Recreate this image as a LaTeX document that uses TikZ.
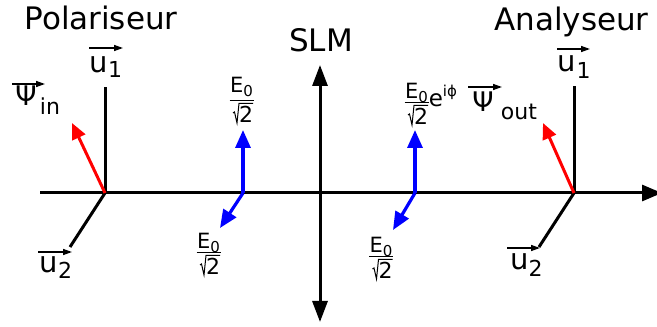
\documentclass[tikz,border=0pt]{standalone}
\usepackage{fontspec}
\setmainfont{DejaVu Sans}
\usetikzlibrary{arrows.meta}
\newcommand\efrac[4]{% cx, cy, name, numerator raise
  \node[fnum] (#3n) at (#1,#2+#4) {E\raisebox{-4pt}{\fontsize{15}{15}\selectfont 0}};
  \draw[fbar] (#1-12,#2) -- (#1+12,#2);
  \node[fden] (#3d) at (#1+4.5,#2-22) {2};
  \draw[fbar,line join=miter] (#1-8.5,#2-12) -- (#1-7,#2-11) -- (#1-4.5,#2-22) -- (#1-2.5,#2-2.5) -- (#1+11.5,#2-2.5);
}
\begin{document}
\begin{tikzpicture}[x=1pt,y=1pt,
  axis/.style={line width=3pt,black},
  head/.style={-{Triangle[length=20pt,width=16pt]}},
  title/.style={font=\fontsize{31}{31}\selectfont, inner sep=0pt, anchor=base},
  big/.style={font=\fontsize{29}{29}\selectfont, inner sep=0pt, anchor=base},
  psi/.style={font=\fontsize{27}{27}\selectfont, inner sep=0pt, anchor=base},
  sub/.style={font=\fontsize{22}{22}\selectfont, inner sep=0pt, anchor=base},
  over/.style={line width=1.4pt,-{Triangle[length=9pt,width=6pt]}},
  fnum/.style={font=\fontsize{21}{21}\selectfont, inner sep=0pt, anchor=base},
  fden/.style={font=\fontsize{22}{22}\selectfont, inner sep=0pt, anchor=base},
  fbar/.style={line width=1pt},
  redvec/.style={line width=3pt,red,-{Triangle[length=16pt,width=14pt]}},
  bluevec/.style={line width=3.2pt,blue,-{Triangle[length=18pt,width=15pt]}}
]
\useasboundingbox (0,0) rectangle (657,327);
% titles
\node[title] (pol) at (101,297) {Polariseur};
\node[title] (ana) at (571.5,296) {Analyseur};
\node[title] (slm) at (321,275) {SLM};
% key points
\coordinate (L) at (40,134);
\coordinate (R) at (662,134);
\coordinate (O1) at (105,134);
\coordinate (O2) at (574,134);
\coordinate (S1) at (320,5);
\coordinate (S2) at (320,262);
\coordinate (U1a) at (105,240);
\coordinate (U2a) at (70,80);
\coordinate (U1b) at (574,241);
\coordinate (U2b) at (539,80);
\coordinate (Pin) at (72,204);
\coordinate (Pout) at (543,204);
\coordinate (B1) at (243,134);
\coordinate (B1u) at (243,197);
\coordinate (B1d) at (220,99);
\coordinate (B2) at (415,134);
\coordinate (B2u) at (415,197);
\coordinate (B2d) at (393,97);
% axes
\draw[axis,head] (L) -- (R);
\draw[axis,{Triangle[length=21pt,width=15pt]}-{Triangle[length=21pt,width=15pt]}] (S1) -- (S2);
\draw[axis] (O1) -- (U1a);
\draw[axis] (O1) -- (U2a);
\draw[axis] (O2) -- (U1b);
\draw[axis] (O2) -- (U2b);
% red vectors
\draw[redvec] (O1) -- (Pin);
\draw[redvec] (O2) -- (Pout);
% blue vectors
\draw[bluevec] (B1) -- (B1u);
\draw[bluevec] (B1) -- (B1d);
\draw[bluevec] (B2) -- (B2u);
\draw[bluevec] (B2) -- (B2d);
% vector labels
\node[big] (u1a) at (99,254) {u};
\node[sub] (u1as) at (115,249) {1};
\draw[over] (89,279) -- (123,279);
\node[big] (u1b) at (567,255) {u};
\node[sub] (u1bs) at (583.5,248) {1};
\draw[over] (557,278) -- (590,278);
\node[big] (u2a) at (49,54) {u};
\node[sub] (u2as) at (65,48) {2};
\draw[over] (38,75) -- (72,75);
\node[big] (u2b) at (519.5,57) {u};
\node[sub] (u2bs) at (535.5,50) {2};
\draw[over] (507,79) -- (540,79);
\node[psi] (psia) at (26,221) {Ψ};
\node[sub] (psias) at (50,212) {in};
\draw[over] (12,243) -- (45,243);
\node[psi] (psib) at (483,215) {Ψ};
\node[sub] (psibs) at (519,207) {out};
\draw[over] (468,240) -- (502,240);
% fractions
\efrac{241.5}{226}{fa}{8}
\efrac{208.5}{74}{fb}{4}
\efrac{416.5}{224}{fc}{4}
\efrac{381}{70}{fd}{4}
\node[font=\fontsize{23}{23}\selectfont, inner sep=0pt, anchor=base] (ee) at (436,220) {e};
\node[font=\fontsize{15}{15}\selectfont, inner sep=0pt, anchor=base] (eexp) at (450,230) {iϕ};
\end{tikzpicture}
\end{document}
